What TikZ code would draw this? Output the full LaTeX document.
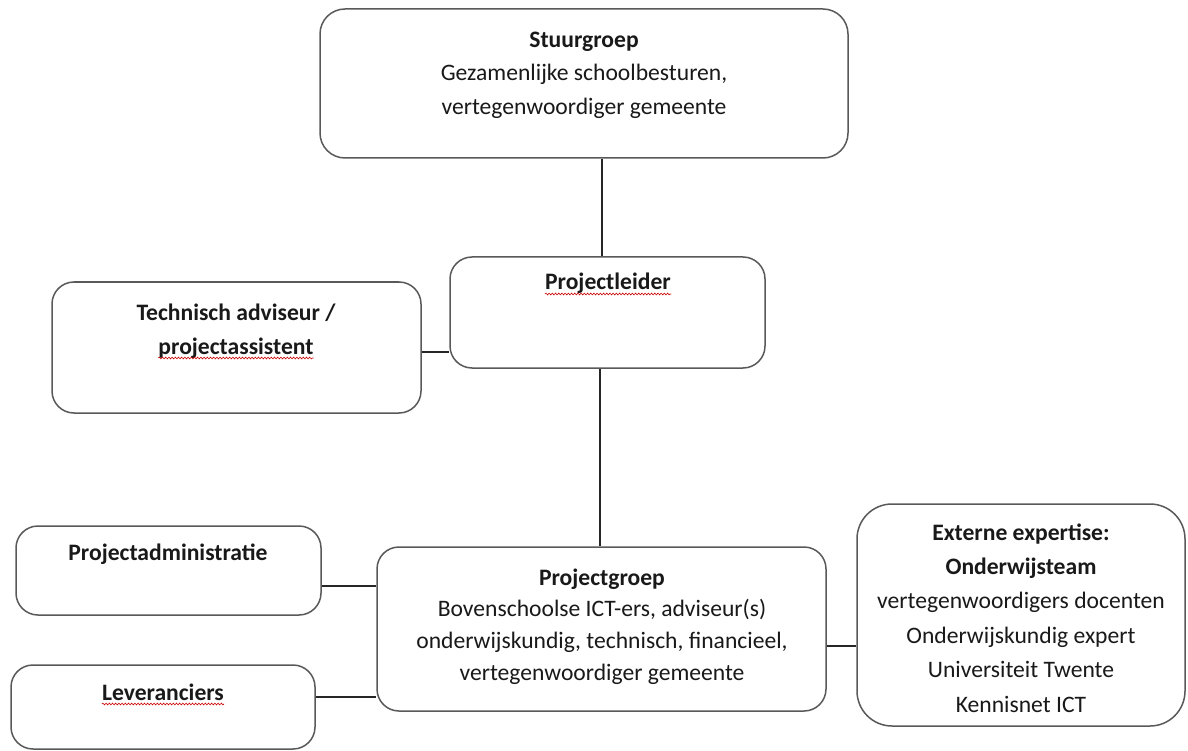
\documentclass[tikz,border=0pt]{standalone}
\usepackage{fontspec}
\setmainfont{Carlito}
\usetikzlibrary{decorations.pathmorphing}
\begin{document}
\begin{tikzpicture}[x=1pt,y=-1pt,
  box/.style={draw=black!65, line width=1.5pt, rounded corners=22pt, inner sep=0pt, fill=white},
  txt/.style={align=center, inner sep=0pt, anchor=north, text=black!90},
  line1/.style={inner sep=0pt, anchor=base, text=black!90, font=\fontsize{23.6}{32}\selectfont\bfseries},
  conn/.style={draw=black!85, line width=1.2pt},
  squig/.style={draw=red!80!black, line width=0.6pt, decorate, decoration={snake, amplitude=0.9pt, segment length=3.2pt}}]
\useasboundingbox (0,0) rectangle (1188,751);

% boxes
\node[box, rounded corners=25pt, minimum width=528pt, minimum height=149pt] (stuur) at (584,83.5) {};
\node[box, minimum width=315pt, minimum height=111pt] (leider) at (607.5,312.5) {};
\node[box, minimum width=369pt, minimum height=131pt] (tech) at (236.5,347.5) {};
\node[box, minimum width=305pt, minimum height=89pt] (admin) at (168.5,570.5) {};
\node[box, minimum width=304pt, minimum height=84pt] (lev) at (163,707) {};
\node[box, minimum width=449pt, minimum height=164pt] (groep) at (601.5,629) {};
\node[box, rounded corners=35pt, minimum width=328pt, minimum height=222pt] (ext) at (1021,615) {};

% texts
\node[txt, font=\fontsize{23.6}{33.5}\selectfont] (stuurT) at (584,23.55)
  {\strut\textbf{Stuurgroep}\\Gezamenlijke schoolbesturen,\\vertegenwoordiger gemeente};
\node[line1] (leiderT) at (608,290) {Projectleider};
\node[line1] (techA) at (236,320) {Technisch adviseur /};
\node[line1] (techB) at (236,354) {projectassistent};
\node[line1] (adminT) at (168,560) {Projectadministratie};
\node[line1] (levT) at (163,700) {Leveranciers};
\node[txt, font=\fontsize{23.6}{31.7}\selectfont] (groepT) at (602,562.8)
  {\strut\textbf{Projectgroep}\\Bovenschoolse ICT-ers, adviseur(s)\\onderwijskundig, technisch, financieel,\\vertegenwoordiger gemeente};
\node[txt, font=\fontsize{23.6}{34.4}\selectfont] (extT) at (1021,515.9)
  {\strut\textbf{Externe expertise:}\\\textbf{Onderwijsteam}\\vertegenwoordigers docenten\\Onderwijskundig expert\\Universiteit Twente\\Kennisnet ICT};

% spelling squiggles
\draw[squig] ([yshift=-4pt]leiderT.base west) -- ([yshift=-4pt]leiderT.base east);
\draw[squig] ([yshift=-4pt]techB.base west) -- ([yshift=-4pt]techB.base east);
\draw[squig] ([yshift=-4pt]levT.base west) -- ([yshift=-4pt]levT.base east);

% connectors
\draw[conn] ([xshift=18pt]stuur.south) -- ([xshift=18pt]stuur.south |- leider.north);
\draw[conn] ([xshift=-7.5pt]leider.south) -- ([xshift=-7.5pt]leider.south |- groep.north);
\draw[conn] ([yshift=-4.5pt]tech.east) -- ([yshift=-4.5pt]tech.east -| leider.west);
\draw[conn] ([yshift=-15.5pt]admin.east) -- ([yshift=-15.5pt]admin.east -| groep.west);
\draw[conn] ([yshift=10pt]lev.east) -- ([yshift=10pt]lev.east -| groep.west);
\draw[conn] ([yshift=-17pt]groep.east) -- ([yshift=-17pt]groep.east -| ext.west);
\end{tikzpicture}
\end{document}
